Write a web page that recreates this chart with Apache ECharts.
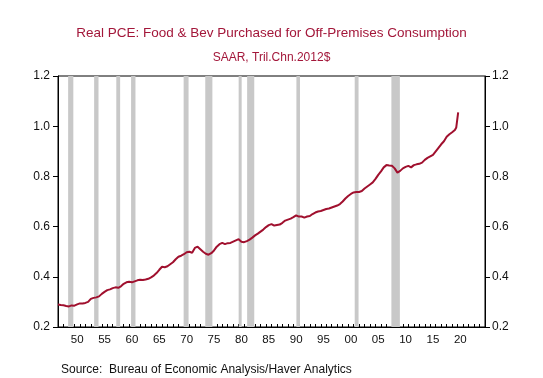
<!DOCTYPE html>
<html>
<head>
<meta charset="utf-8">
<script src="https://cdn.jsdelivr.net/npm/echarts@6/dist/echarts.min.js"></script>
<style>
html,body{margin:0;padding:0;background:#fff;}
#chart{width:543px;height:378px;}
</style>
</head>
<body>
<div id="chart"></div>
<script>
// Semi-annual values starting 1947.0 (step 0.5 year)
const startYear = 1947;
const stepYears = 0.5;
const pceValues = [
  0.290,0.288,0.287,0.284,0.282,0.286,0.285,0.290,0.294,0.294, // 1947-1951.5
  0.296,0.300,0.312,0.316,0.318,0.322,0.332,0.340,0.347,0.350, // 1952-1956.5
  0.355,0.358,0.356,0.362,0.372,0.378,0.380,0.378,0.382,0.386, // 1957-1961.5
  0.388,0.387,0.389,0.392,0.398,0.405,0.415,0.428,0.440,0.438, // 1962-1966.5
  0.442,0.450,0.458,0.470,0.480,0.484,0.490,0.498,0.500,0.496, // 1967-1971.5
  0.515,0.520,0.510,0.500,0.492,0.488,0.494,0.505,0.520,0.530, // 1972-1976.5
  0.535,0.530,0.534,0.535,0.540,0.545,0.550,0.540,0.538,0.542, // 1977-1981.5
  0.548,0.556,0.565,0.572,0.580,0.588,0.598,0.606,0.610,0.604, // 1982-1986.5
  0.606,0.608,0.615,0.624,0.628,0.632,0.638,0.645,0.640,0.640, // 1987-1991.5
  0.636,0.640,0.642,0.650,0.656,0.660,0.662,0.666,0.670,0.672, // 1992-1996.5
  0.676,0.680,0.684,0.690,0.700,0.712,0.722,0.730,0.736,0.738, // 1997-2001.5
  0.738,0.742,0.752,0.760,0.768,0.776,0.790,0.806,0.820,0.836, // 2002-2006.5
  0.845,0.843,0.842,0.832,0.815,0.822,0.832,0.838,0.842,0.836, // 2007-2011.5
  0.845,0.848,0.850,0.855,0.866,0.874,0.880,0.886,0.900,0.914, // 2012-2016.5
  0.928,0.940,0.958,0.968,0.976,0.985                          // 2017-2019.5
];
// Final observations (late 2019 - early 2020)
const tailYears = [2019.75, 2020.0, 2020.1];
const tailValues = [0.995, 1.000, 1.055];

// NBER recessions (decimal years)
const recessionStarts = [1948.85, 1953.6, 1957.65, 1960.35, 1969.95, 1973.9, 1980.0, 1981.55, 1990.55, 2001.2, 2007.9];
const recessionEnds   = [1949.8, 1954.4, 1958.35, 1961.15, 1970.85, 1975.2, 1980.55, 1982.85, 1991.2, 2001.9, 2009.45];

const xLabelYears = [1950,1955,1960,1965,1970,1975,1980,1985,1990,1995,2000,2005,2010,2015,2020];

const titleText = 'Real PCE: Food & Bev Purchased for Off-Premises Consumption';
const subtitleText = 'SAAR, Tril.Chn.2012$';
const sourceText = 'Source:  Bureau of Economic Analysis/Haver Analytics';

const seriesData = pceValues.map((v, i) => [startYear + i * stepYears, v])
  .concat(tailYears.map((y, i) => [y, tailValues[i]]));
const areas = recessionStarts.map((s, i) => [{xAxis: s}, {xAxis: recessionEnds[i]}]);

const FONT = 'Liberation Sans, Arial, sans-serif';
const chart = echarts.init(document.getElementById('chart'), null, {renderer: 'canvas'});
const yAxisCommon = {
  type: 'value', min: 0.2, max: 1.2, interval: 0.2,
  axisLine: {show: true, lineStyle: {color: '#000', width: 1}},
  axisTick: {show: true, length: 5, lineStyle: {color: '#000'}},
  splitLine: {show: false},
  axisLabel: {color: '#111', fontSize: 12, fontFamily: FONT, margin: 8,
    formatter: v => v.toFixed(1)}
};
chart.setOption({
  animation: false,
  backgroundColor: '#fff',
  title: [
    {text: titleText, left: 'center', top: 21,
     textStyle: {color: '#a3173a', fontSize: 13.5, fontWeight: 'normal', fontFamily: FONT}},
    {text: subtitleText, left: 'center', top: 47,
     textStyle: {color: '#a3173a', fontSize: 12, fontWeight: 'normal', fontFamily: FONT}},
    {text: sourceText, left: 56, top: 359,
     textStyle: {color: '#111', fontSize: 12, fontWeight: 'normal', fontFamily: FONT}}
  ],
  grid: {left: 58, right: 58, top: 76, bottom: 51, show: true, borderColor: '#000', borderWidth: 1, backgroundColor: 'transparent'},
  xAxis: {
    type: 'value', min: 1947, max: 2025, interval: 1,
    axisLine: {show: true, onZero: false, lineStyle: {color: '#000'}},
    axisTick: {show: true, inside: true, length: 3, lineStyle: {color: '#000'}},
    splitLine: {show: false},
    axisLabel: {
      customValues: xLabelYears.map(y => y + 0.5),
      color: '#111', fontSize: 11.5, fontFamily: FONT, margin: 7,
      formatter: v => String(Math.floor(v) % 100).padStart(2, '0')
    }
  },
  yAxis: [
    Object.assign({}, yAxisCommon, {position: 'left'}),
    Object.assign({}, yAxisCommon, {position: 'right', axisLabel: Object.assign({}, yAxisCommon.axisLabel, {margin: 7})})
  ],
  series: [{
    type: 'line', data: seriesData, showSymbol: false, symbol: 'none',
    lineStyle: {color: '#a0102e', width: 2},
    z: 3,
    markArea: {silent: true, itemStyle: {color: '#c8c8c8'}, data: areas}
  }]
});
</script>
</body>
</html>
